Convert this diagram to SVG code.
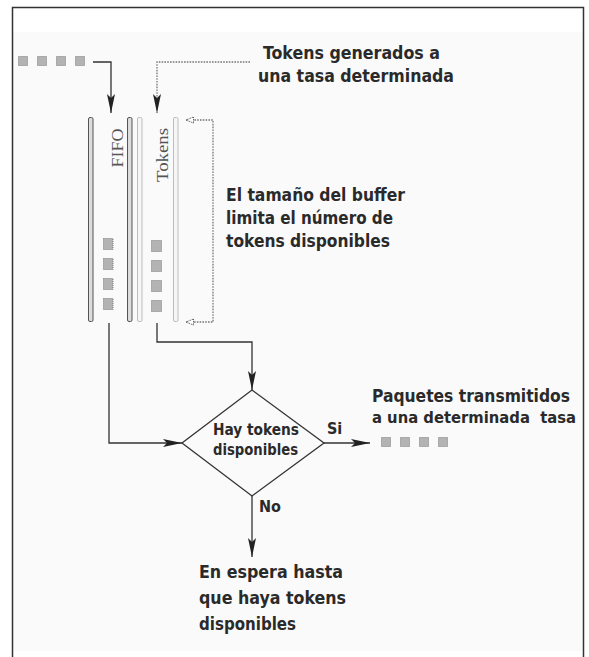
<svg xmlns="http://www.w3.org/2000/svg" width="589" height="657" viewBox="0 0 589 657">
<defs>
<style>
.t{font-family:"DejaVu Sans Condensed","DejaVu Sans",sans-serif;font-weight:bold;font-size:18.5px;fill:#2a2a2a}
.s{font-size:16px}
.pre{white-space:pre}
.serif{font-family:"Liberation Serif","DejaVu Serif",serif;font-size:17px;fill:#555}
.line{fill:none;stroke:#333;stroke-width:1.3}
.dot{fill:none;stroke:#777;stroke-width:1.3;stroke-dasharray:1.6 1.2}
.barD{fill:#dcdcdc;stroke:#555;stroke-width:1}
.barL{fill:#f6f6f6;stroke:#bdbdbd;stroke-width:1}
.pkt{fill:#b3b3b3;stroke:#7a7a7a;stroke-width:1;stroke-dasharray:1 1}
</style>
<marker id="ah" markerUnits="userSpaceOnUse" markerWidth="20" markerHeight="10" refX="19" refY="4" orient="auto">
<path d="M0,0 L19,4 L0,8 L4,4 z" fill="#222"/>
</marker>
<marker id="oh" markerUnits="userSpaceOnUse" markerWidth="10" markerHeight="8" refX="8" refY="3.5" orient="auto-start-reverse">
<path d="M0.5,0.5 L8,3.5 L0.5,6.5 z" fill="#fff" stroke="#555" stroke-width="1" stroke-dasharray="1 0.8"/>
</marker>
</defs>
<rect x="0" y="0" width="589" height="657" fill="#fff"/>
<rect x="13" y="32" width="570" height="619" fill="#fafafa"/>
<path d="M12.5,660 V7.5 H583.5 V660" fill="none" stroke="#333" stroke-width="1.5"/>

<g id="connectors">
<path class="line" d="M93,62 H111 V113" marker-end="url(#ah)"/>
<path class="dot" d="M250,62 H157 V113" marker-end="url(#ah)"/>
<path class="dot" d="M186,120 H213 V322 H186" marker-start="url(#oh)" marker-end="url(#oh)"/>
<path class="line" d="M109,323 V443 H182" marker-end="url(#ah)"/>
<path class="line" d="M157,323 V342 H252 V390" marker-end="url(#ah)"/>
<path class="line" d="M324,443 H370" marker-end="url(#ah)"/>
<path class="line" d="M252,496 V557" marker-end="url(#ah)"/>
</g>

<g id="input-packets">
<rect class="pkt" x="18.5" y="56.5" width="9" height="9"/>
<rect class="pkt" x="37.5" y="56.5" width="9" height="9"/>
<rect class="pkt" x="56.5" y="56.5" width="9" height="9"/>
<rect class="pkt" x="75.5" y="56.5" width="9" height="9"/>
</g>

<g id="label-tokens-generados">
<text class="t" x="263" y="59" textLength="177" lengthAdjust="spacingAndGlyphs">Tokens generados a</text>
<text class="t" x="258" y="82" textLength="196" lengthAdjust="spacingAndGlyphs">una tasa determinada</text>
</g>

<g id="fifo">
<rect class="barD" x="88.5" y="117.5" width="4.5" height="204" rx="1.5"/>
<rect class="barD" x="127.5" y="117.5" width="4.5" height="204" rx="1.5"/>
<text class="serif" transform="translate(123,148) rotate(-90)" text-anchor="middle" textLength="39" lengthAdjust="spacingAndGlyphs">FIFO</text>
<rect class="pkt" x="103.5" y="238.5" width="9.5" height="11"/>
<rect class="pkt" x="103.5" y="258.5" width="9.5" height="11"/>
<rect class="pkt" x="103.5" y="278.5" width="9.5" height="11"/>
<rect class="pkt" x="103.5" y="298.5" width="9.5" height="11"/>
</g>

<g id="tokens">
<rect class="barL" x="137.5" y="117.5" width="4.5" height="204" rx="1.5"/>
<rect class="barL" x="173.5" y="117.5" width="4.5" height="204" rx="1.5"/>
<text class="serif" transform="translate(168,155) rotate(-90)" text-anchor="middle" textLength="54" lengthAdjust="spacingAndGlyphs">Tokens</text>
<rect class="pkt" x="151.5" y="240.5" width="10" height="11"/>
<rect class="pkt" x="151.5" y="260.5" width="10" height="11"/>
<rect class="pkt" x="151.5" y="280.5" width="10" height="11"/>
<rect class="pkt" x="151.5" y="300.5" width="10" height="11"/>
</g>

<g id="label-buffer">
<text class="t" x="226" y="201" textLength="179" lengthAdjust="spacingAndGlyphs">El tamaño del buffer</text>
<text class="t" x="226" y="224" textLength="167" lengthAdjust="spacingAndGlyphs">limita el número de</text>
<text class="t" x="226" y="247" textLength="164" lengthAdjust="spacingAndGlyphs">tokens disponibles</text>
</g>

<g id="decision">
<polygon points="252,390 324,443 252,496 182,443" fill="#fafafa" stroke="#333" stroke-width="1.3"/>
<text class="t s" x="256" y="435" text-anchor="middle" textLength="86" lengthAdjust="spacingAndGlyphs">Hay tokens</text>
<text class="t s" x="255.5" y="455" text-anchor="middle" textLength="85" lengthAdjust="spacingAndGlyphs">disponibles</text>
</g>

<g id="label-si">
<text class="t s" x="327" y="434">Si</text>
</g>
<g id="label-no">
<text class="t s" x="259" y="512">No</text>
</g>

<g id="output">
<text class="t" x="372" y="402" font-size="17.5" style="font-size:17.5px" textLength="198" lengthAdjust="spacingAndGlyphs">Paquetes transmitidos</text>
<text class="t pre" x="372" y="423" style="font-size:16.5px" textLength="204" lengthAdjust="spacingAndGlyphs">a una determinada  tasa</text>
<rect class="pkt" x="381.5" y="437.5" width="9" height="9"/>
<rect class="pkt" x="400.5" y="437.5" width="9" height="9"/>
<rect class="pkt" x="419.5" y="437.5" width="9" height="9"/>
<rect class="pkt" x="438.5" y="437.5" width="9" height="9"/>
</g>

<g id="waiting">
<text class="t" x="199" y="578" textLength="144" lengthAdjust="spacingAndGlyphs">En espera hasta</text>
<text class="t" x="199" y="604" textLength="147" lengthAdjust="spacingAndGlyphs">que haya tokens</text>
<text class="t" x="199" y="630" textLength="97" lengthAdjust="spacingAndGlyphs">disponibles</text>
</g>
</svg>
